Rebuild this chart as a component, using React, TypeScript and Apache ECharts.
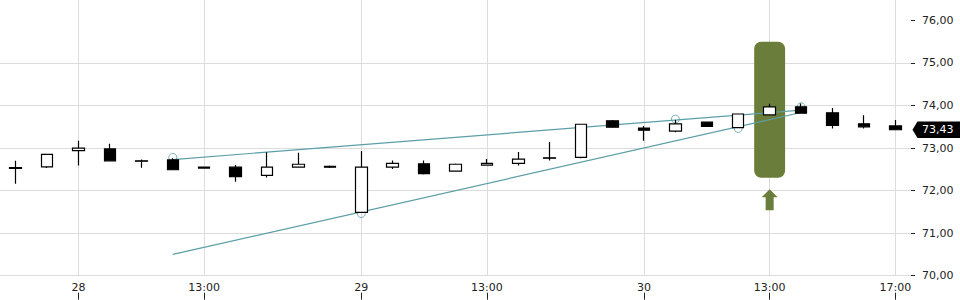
import React, { useEffect, useRef } from 'react';
import * as echarts from 'echarts';

// hourly candles: 27th (16:00, 17:00), then 28th, 29th, 30th from 09:00 to 17:00
const categories = [
  '27 16:00', '27 17:00',
  '28 09:00', '28 10:00', '28 11:00', '28 12:00', '28 13:00', '28 14:00', '28 15:00', '28 16:00', '28 17:00',
  '29 09:00', '29 10:00', '29 11:00', '29 12:00', '29 13:00', '29 14:00', '29 15:00', '29 16:00', '29 17:00',
  '30 09:00', '30 10:00', '30 11:00', '30 12:00', '30 13:00', '30 14:00', '30 15:00', '30 16:00', '30 17:00',
];
const opens = [72.54, 72.56, 72.94, 72.98, 72.70, 72.72, 72.55, 72.55, 72.36, 72.55, 72.57, 71.49, 72.55, 72.63, 72.46, 72.60, 72.64, 72.77, 72.78, 73.64, 73.47, 73.40, 73.61, 73.48, 73.78, 73.97, 73.83, 73.57, 73.52];
const closes = [72.52, 72.85, 73.00, 72.70, 72.69, 72.49, 72.53, 72.33, 72.55, 72.62, 72.55, 72.55, 72.64, 72.40, 72.62, 72.64, 72.74, 72.76, 73.56, 73.49, 73.42, 73.57, 73.51, 73.80, 73.97, 73.82, 73.53, 73.50, 73.43];
const lows = [72.16, 72.53, 72.59, 72.70, 72.54, 72.49, 72.52, 72.21, 72.31, 72.55, 72.53, 71.48, 72.51, 72.38, 72.46, 72.60, 72.59, 72.71, 72.76, 73.49, 73.17, 73.37, 73.51, 73.48, 73.78, 73.82, 73.46, 73.46, 73.43];
const highs = [72.70, 72.85, 73.17, 73.10, 72.73, 72.76, 72.56, 72.60, 72.90, 72.89, 72.59, 72.93, 72.71, 72.71, 72.64, 72.74, 72.91, 73.14, 73.56, 73.66, 73.52, 73.66, 73.61, 73.80, 74.04, 74.05, 73.94, 73.77, 73.66];

// wedge trend lines [candle index, price]
const upperTrend = [[5, 72.73], [25, 73.89]];
const lowerTrend = [[5, 70.5], [25, 73.835]];
const anchorPoints = [[5, 72.78], [11, 71.46], [21, 73.68], [23, 73.46], [25, 73.97]];

// highlighted candle [index, low, high]
const highlight = [[24, 72.3, 75.5]];
const lastPrice = 73.43;

const xTickIdx = [2, 6, 11, 15, 20, 24, 28];
const xTickLabels = ['28', '13:00', '29', '13:00', '30', '13:00', '17:00'];
const yTicks = [70, 71, 72, 73, 74, 75, 76];

const FONT = 'DejaVu Sans';
const TEAL = '#5b9ea6';
const GREEN = '#6a7d3a';
const GRID = '#dcdcdc';
const TEXT = '#222';

export default function App() {
  const ref = useRef<HTMLDivElement>(null);
  useEffect(() => {
    const chart = echarts.init(ref.current!, undefined, { renderer: 'svg' });
    const candleData = categories.map((_, i) => [opens[i], closes[i], lows[i], highs[i]]);
    const fmt = (v: number) => v.toFixed(2).replace('.', ',');
    const option: any = {
      animation: false,
      backgroundColor: '#fff',
      grid: { left: 0, right: 49, top: 0, bottom: 24.3, containLabel: false },
      xAxis: [
        { type: 'category', data: categories, show: false, boundaryGap: true, axisLine: { onZero: false } },
        {
          type: 'value', min: -0.5, max: 28.5, position: 'bottom',
          axisLine: { show: false, onZero: false },
          axisTick: { show: true, length: 0, customValues: xTickIdx },
          axisLabel: {
            customValues: xTickIdx,
            formatter: (v: number) => xTickLabels[xTickIdx.indexOf(Math.round(v))] ?? '',
            margin: 6, color: TEXT, fontSize: 11, fontFamily: FONT,
          },
          splitLine: { show: true, lineStyle: { color: GRID, width: 1 } },
        },
        {
          type: 'value', min: -0.5, max: 28.5, position: 'bottom', offset: 17,
          axisLine: { show: false, onZero: false },
          axisTick: { show: true, length: 7, customValues: xTickIdx, lineStyle: { color: TEXT } },
          axisLabel: { show: false },
          splitLine: { show: false },
        },
      ],
      yAxis: {
        type: 'value', position: 'right', min: 70, max: 76.48,
        axisLine: { show: false, onZero: false },
        axisTick: { show: true, length: 4, customValues: yTicks, lineStyle: { color: TEXT } },
        axisLabel: { customValues: yTicks, formatter: fmt, margin: 11, color: TEXT, fontSize: 11, fontFamily: FONT },
        splitLine: { show: true, showMaxLine: false, lineStyle: { color: GRID, width: 1 } },
      },
      series: [
        {
          type: 'custom', xAxisIndex: 0, yAxisIndex: 0, z: 1, data: highlight,
          renderItem: (params: any, api: any) => {
            const i = api.value(0);
            const top = api.coord([i, api.value(2)]);
            const bot = api.coord([i, api.value(1)]);
            const bw = api.size([1, 0])[0];
            const w = bw - 0.5;
            const cx = top[0];
            const ay = bot[1] + 11.5;
            return {
              type: 'group',
              children: [
                { type: 'rect', shape: { x: cx - w / 2, y: top[1], width: w, height: bot[1] - top[1], r: 7 }, style: { fill: GREEN } },
                {
                  type: 'polygon',
                  shape: { points: [[cx, ay], [cx + 8, ay + 8], [cx + 4, ay + 8], [cx + 4, ay + 21], [cx - 4, ay + 21], [cx - 4, ay + 8], [cx - 8, ay + 8]] },
                  style: { fill: GREEN },
                },
              ],
            };
          },
        },
        { type: 'line', xAxisIndex: 1, yAxisIndex: 0, z: 2, data: upperTrend, symbol: 'none', lineStyle: { color: TEAL, width: 1.2 } },
        { type: 'line', xAxisIndex: 1, yAxisIndex: 0, z: 2, data: lowerTrend, symbol: 'none', lineStyle: { color: TEAL, width: 1.2 } },
        {
          type: 'scatter', xAxisIndex: 1, yAxisIndex: 0, z: 2, data: anchorPoints, symbol: 'circle', symbolSize: 8,
          itemStyle: { color: 'rgba(0,0,0,0)', borderColor: TEAL, borderWidth: 1 },
        },
        {
          type: 'candlestick', xAxisIndex: 0, yAxisIndex: 0, z: 5, data: candleData, barWidth: 12,
          itemStyle: { color: '#fff', color0: '#000', borderColor: '#000', borderColor0: '#000', borderWidth: 1.2 },
        },
        {
          type: 'custom', xAxisIndex: 0, yAxisIndex: 0, z: 6, clip: false, data: [[categories.length - 1, lastPrice]],
          renderItem: (params: any, api: any) => {
            const y = api.coord([0, api.value(1)])[1];
            const cs = params.coordSys;
            const x0 = cs.x + cs.width;
            return {
              type: 'group',
              children: [
                {
                  type: 'polygon',
                  shape: { points: [[x0 + 1.5, y], [x0 + 6.5, y - 8.2], [x0 + 49, y - 8.2], [x0 + 49, y + 8.2], [x0 + 6.5, y + 8.2]] },
                  style: { fill: '#000' },
                },
                {
                  type: 'text', x: x0 + 11, y,
                  style: { text: fmt(api.value(1)), fill: '#fff', fontSize: 11, fontFamily: FONT, verticalAlign: 'middle', align: 'left' },
                },
              ],
            };
          },
        },
      ],
    };
    chart.setOption(option);
    return () => chart.dispose();
  }, []);
  return <div ref={ref} style={{ position: 'fixed', left: 0, top: 0, width: 960, height: 300 }} />;
}
